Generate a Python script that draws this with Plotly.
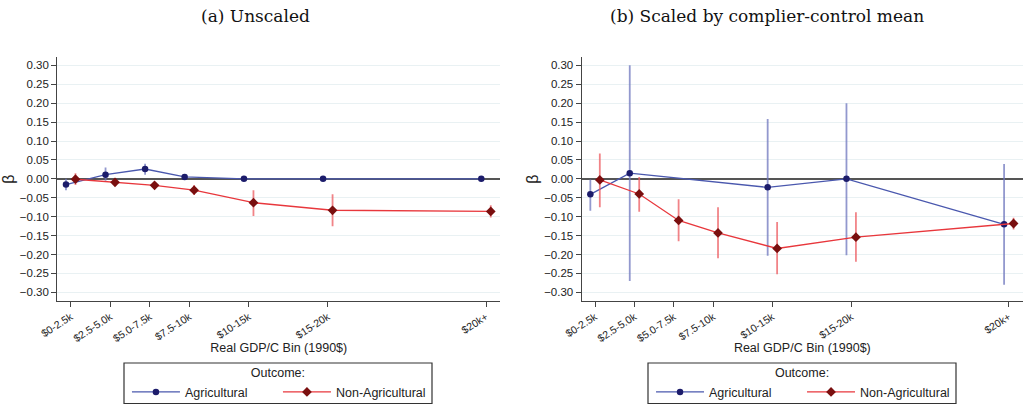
import numpy as np
import plotly.graph_objects as go

# ---- data ----
bin_labels = ["$0-2.5k", "$2.5-5.0k", "$5.0-7.5k", "$7.5-10k", "$10-15k", "$15-20k", "$20k+"]
bin_lower = [0.0, 2.5, 5.0, 7.5, 10.0, 15.0, 20.0]
bin_upper = [2.5, 5.0, 7.5, 10.0, 15.0, 20.0, 35.0]

# (a) Unscaled
a_ag = [-0.015, 0.011, 0.026, 0.005, 0.000, 0.000, 0.000]
a_ag_lo = [-0.030, -0.005, 0.011, 0.000, -0.002, -0.002, -0.002]
a_ag_hi = [0.000, 0.030, 0.040, 0.010, 0.002, 0.002, 0.002]
a_na = [-0.001, -0.009, -0.017, -0.030, -0.063, -0.083, -0.086]
a_na_lo = [-0.016, -0.016, -0.026, -0.043, -0.098, -0.125, -0.102]
a_na_hi = [0.015, -0.003, -0.009, -0.017, -0.030, -0.041, -0.070]

# (b) Scaled by complier-control mean
b_ag = [-0.041, 0.015, None, None, -0.0225, 0.000, -0.120]
b_ag_lo = [-0.084, -0.270, None, None, -0.203, -0.202, -0.280]
b_ag_hi = [-0.002, 0.300, None, None, 0.158, 0.200, 0.039]
b_na = [-0.003, -0.040, -0.110, -0.143, -0.184, -0.154, -0.118]
b_na_lo = [-0.075, -0.087, -0.165, -0.210, -0.252, -0.219, -0.134]
b_na_hi = [0.067, 0.005, -0.054, -0.075, -0.114, -0.088, -0.103]

series_names = ["Agricultural", "Non-Agricultural"]

# ---- styling ----
mid = (np.array(bin_lower) + np.array(bin_upper)) / 2.0
OFFSET = 0.3
AG_LINE = "#4a58ae"
AG_MARK = "#1c1c6b"
AG_CI = "rgba(110,118,190,0.75)"
NA_LINE = "#e8373c"
NA_MARK = "#7a0f0f"
NA_CI = "rgba(236,90,95,0.75)"
FONT = "Liberation Sans, Arial, sans-serif"
H = 407.0


def arr(v):
    return np.array([np.nan if x is None else x for x in v], dtype=float)


def add_series(fig, y, lo, hi, xs, name, line_c, mark_c, ci_c, symbol, size,
               xaxis, yaxis, legend):
    y, lo, hi = arr(y), arr(lo), arr(hi)
    fig.add_trace(go.Scatter(
        x=xs, y=y, mode="lines+markers", name=name,
        line=dict(color=line_c, width=1.3),
        marker=dict(color=mark_c, size=size, symbol=symbol, line=dict(width=0)),
        error_y=dict(type="data", symmetric=False, array=hi - y, arrayminus=y - lo,
                     width=0, thickness=1.8, color=ci_c),
        connectgaps=True, xaxis=xaxis, yaxis=yaxis, legend=legend,
    ))


fig = go.Figure()
for (ag, ag_lo, ag_hi, na, na_lo, na_hi, xa, ya, lg) in [
    (a_ag, a_ag_lo, a_ag_hi, a_na, a_na_lo, a_na_hi, "x", "y", "legend"),
    (b_ag, b_ag_lo, b_ag_hi, b_na, b_na_lo, b_na_hi, "x2", "y2", "legend2"),
]:
    add_series(fig, ag, ag_lo, ag_hi, mid - OFFSET, series_names[0], AG_LINE, AG_MARK,
               AG_CI, "circle", 6.5, xa, ya, lg)
    add_series(fig, na, na_lo, na_hi, mid + OFFSET, series_names[1], NA_LINE, NA_MARK,
               NA_CI, "diamond", 7.5, xa, ya, lg)

yticks = [round(v, 2) for v in np.arange(-0.30, 0.3001, 0.05)]

xcommon = dict(
    range=[0.4, 28.4], tickmode="array", tickvals=list(mid), ticktext=bin_labels,
    tickangle=-33, tickfont=dict(family=FONT, size=10.5, color="#222"),
    ticks="outside", ticklen=5, tickcolor="#444", showline=True, linecolor="#444",
    linewidth=1.2, showgrid=False, zeroline=False, automargin=False,
    title=dict(text="Real GDP/C Bin (1990$)", font=dict(family=FONT, size=12.5, color="#222"),
               standoff=0),
)
ycommon = dict(
    range=[-0.322, 0.321], tickmode="array", tickvals=yticks, tickformat=".2f",
    tickfont=dict(family=FONT, size=11.5, color="#222"), ticks="outside", ticklen=5,
    tickcolor="#444", showline=True, linecolor="#444", linewidth=1.2,
    showgrid=True, gridcolor="#e9f1f3", gridwidth=1, automargin=False,
    zeroline=True, zerolinecolor="#555", zerolinewidth=1.6,
    title=dict(text="β", font=dict(family=FONT, size=16, color="#222"), standoff=1),
)

legcommon = dict(
    orientation="h", yanchor="top", y=1 - 361 / H, xanchor="center",
    borderwidth=0, bgcolor="rgba(0,0,0,0)",
    font=dict(family=FONT, size=12.5, color="#222"),
    title=dict(text="Outcome:", side="top center", font=dict(family=FONT, size=12.5, color="#222")),
    itemwidth=48, tracegroupgap=0, entrywidthmode="pixels", entrywidth=88,
)

# legend frames (pixel boxes converted to paper fractions)
frames = [(124, 432), (648, 956)]
shapes = [dict(type="rect", xref="paper", yref="paper", x0=l / 1023, x1=r / 1023,
               y0=1 - 403.5 / H, y1=1 - 363 / H, line=dict(color="#333", width=1.2),
               fillcolor="rgba(0,0,0,0)", layer="above") for (l, r) in frames]

fig.update_layout(
    width=1023, height=407, margin=dict(l=0, r=0, t=0, b=0, autoexpand=False),
    paper_bgcolor="white", plot_bgcolor="white",
    xaxis=dict(domain=[0.056, 0.489], anchor="y", **xcommon),
    yaxis=dict(domain=[0.2612, 0.859], anchor="x", **ycommon),
    xaxis2=dict(domain=[0.5686, 1.0], anchor="y2", **xcommon),
    yaxis2=dict(domain=[0.2612, 0.859], anchor="x2", **ycommon),
    legend=dict(x=0.2717, **legcommon),
    legend2=dict(x=0.784, **legcommon),
    showlegend=True,
    shapes=shapes,
    annotations=[
        dict(text="(a) Unscaled", x=0.25, y=1 - 16 / H, xref="paper", yref="paper",
             xanchor="center", yanchor="middle", showarrow=False,
             font=dict(family="DejaVu Serif, serif", size=17, color="#111")),
        dict(text="(b) Scaled by complier-control mean", x=0.75, y=1 - 16 / H,
             xref="paper", yref="paper", xanchor="center", yanchor="middle", showarrow=False,
             font=dict(family="DejaVu Serif, serif", size=17, color="#111")),
    ],
)

fig.write_html("out.html")
